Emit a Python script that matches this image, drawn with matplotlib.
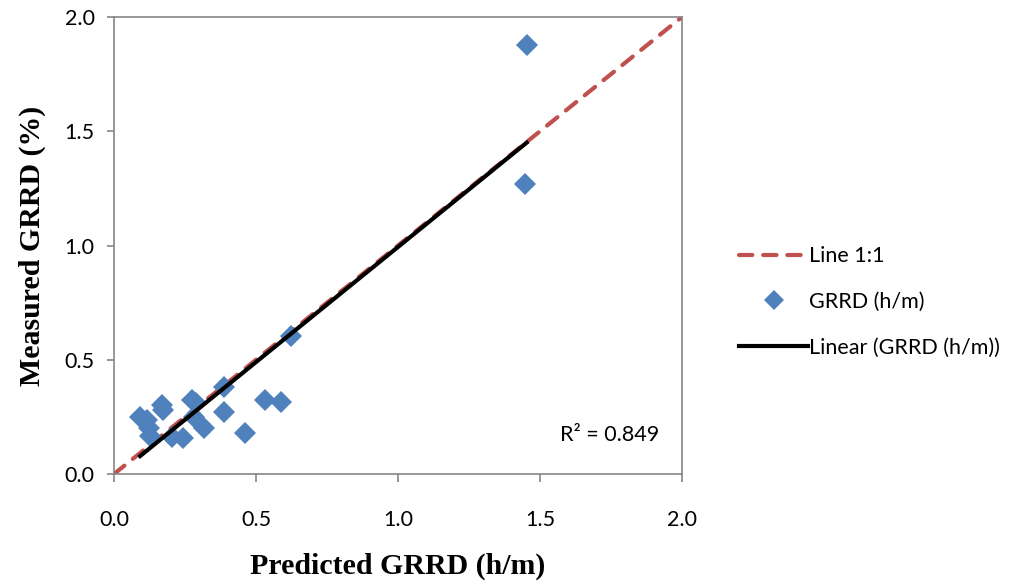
import numpy as np
import matplotlib
matplotlib.use("Agg")
import matplotlib.pyplot as plt
from matplotlib.lines import Line2D

# Data
predicted = [1.453, 1.446, 0.622, 0.387, 0.387, 0.531, 0.587, 0.463, 0.318, 0.243,
             0.203, 0.168, 0.173, 0.275, 0.288, 0.282, 0.092, 0.115, 0.122, 0.128]
measured = [1.877, 1.269, 0.603, 0.382, 0.272, 0.324, 0.316, 0.181, 0.203, 0.158,
            0.160, 0.302, 0.282, 0.325, 0.310, 0.250, 0.250, 0.235, 0.200, 0.165]
one_to_one = [0.0, 2.0]
x_ticks = [0.0, 0.5, 1.0, 1.5, 2.0]
y_ticks = [0.0, 0.5, 1.0, 1.5, 2.0]
r2_text = "R² = 0.849"

tick_font = "Lato"
label_font = "Liberation Serif"
grey = "#868686"
fs = 15.5

fig = plt.figure(figsize=(10.18, 5.84), dpi=100)
ax = fig.add_axes([114/1018, 110/584, (682-114)/1018, (474-17)/584])

ax.plot(one_to_one, one_to_one, color="#C0504D", lw=3, ls=(0, (3.2, 2.6)),
        solid_capstyle="round", dash_capstyle="round", zorder=2)
ax.plot(predicted, measured, ls="none", marker="D", ms=11, color="#4F81BD",
        markeredgewidth=0, zorder=3)
px = np.array(predicted)
py = np.array(measured)
slope, intercept = np.polyfit(px, py, 1)
xs = np.array([px.min(), px.max()])
ax.plot(xs, slope*xs + intercept, color="black", lw=3, zorder=4)

ax.set_xlim(0, 2)
ax.set_ylim(0, 2)
ax.set_xticks(x_ticks)
ax.set_yticks(y_ticks)
ax.set_xticklabels([f"{v:.1f}" for v in x_ticks], fontfamily=tick_font, fontsize=fs)
ax.set_yticklabels([f"{v:.1f}" for v in y_ticks], fontfamily=tick_font, fontsize=fs)
for s in ax.spines.values():
    s.set_color(grey)
    s.set_linewidth(1.2)
ax.tick_params(axis="x", direction="out", length=6, width=1.2, color=grey, pad=20)
ax.tick_params(axis="y", direction="out", length=5, width=1.2, color=grey, pad=9)

ax.set_xlabel("Predicted GRRD (h/m)", fontfamily=label_font, fontweight="bold",
              fontsize=21.5, labelpad=16)
ax.set_ylabel("Measured GRRD (%)", fontfamily=label_font, fontweight="bold",
              fontsize=21.5, labelpad=13)

ax.text(0.960, 0.085, r2_text, transform=ax.transAxes, ha="right", va="center",
        fontfamily=tick_font, fontsize=fs)

handles = [
    Line2D([], [], color="#C0504D", lw=3, ls=(0, (3.2, 2.6)), dash_capstyle="round"),
    Line2D([], [], ls="none", marker="D", ms=10, color="#4F81BD", markeredgewidth=0),
    Line2D([], [], color="black", lw=3),
]
labels = ["Line 1:1", "GRRD (h/m)", "Linear (GRRD (h/m))"]
fig.legend(handles, labels, loc="center left", bbox_to_anchor=(720/1018, 1-302/584),
           frameon=False, prop={"family": tick_font, "size": fs},
           handlelength=3.2, handletextpad=0.05, labelspacing=1.2)

fig.savefig("out.png", dpi=100)
